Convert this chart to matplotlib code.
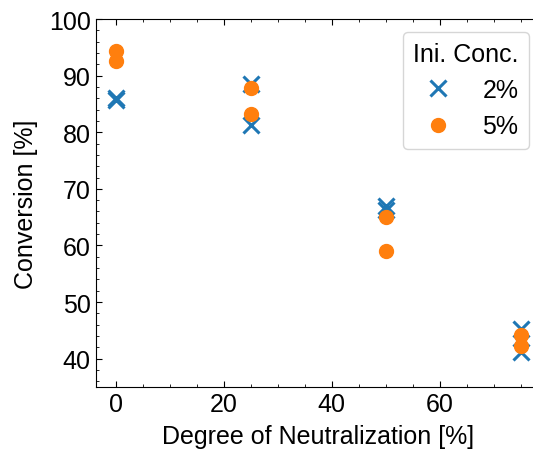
import matplotlib
matplotlib.use("Agg")
import matplotlib.pyplot as plt
from matplotlib.ticker import MultipleLocator

# degree of neutralization [%] and conversion [%] for each initial concentration
dn_2 = [0, 0, 25, 25, 50, 50, 75, 75]
conv_2 = [86.0, 85.7, 88.6, 81.3, 67.0, 66.3, 45.3, 41.1]
dn_5 = [0, 0, 25, 25, 50, 50, 75, 75]
conv_5 = [94.3, 92.6, 87.9, 83.2, 65.1, 59.0, 44.1, 42.2]

plt.rcParams['font.family'] = ['Liberation Sans', 'DejaVu Sans']
plt.rcParams['font.size'] = 18
plt.rcParams['xtick.direction'] = 'in'
plt.rcParams['ytick.direction'] = 'in'
plt.rcParams['xtick.top'] = True
plt.rcParams['ytick.right'] = True
plt.rcParams['xtick.minor.visible'] = True
plt.rcParams['ytick.minor.visible'] = True
plt.rcParams['xtick.major.size'] = 4
plt.rcParams['ytick.major.size'] = 4
plt.rcParams['xtick.minor.size'] = 2
plt.rcParams['ytick.minor.size'] = 2
plt.rcParams['axes.linewidth'] = 0.8

fig = plt.figure(figsize=(5.33, 4.52), dpi=100)
ax = fig.add_axes([95.5 / 533, 64 / 452, 445.5 / 533, 368 / 452])

ax.plot(dn_2, conv_2, 'x', color='#1f77b4', markersize=11, markeredgewidth=2.2, label='2%')
ax.plot(dn_5, conv_5, 'o', color='#ff7f0e', markersize=10, label='5%')

ax.set_xlim(-3.75, 78.75)
ax.set_ylim(35, 100)
ax.xaxis.set_major_locator(MultipleLocator(20))
ax.xaxis.set_minor_locator(MultipleLocator(5))
ax.yaxis.set_major_locator(MultipleLocator(10))
ax.yaxis.set_minor_locator(MultipleLocator(2))
ax.set_xlabel("Degree of Neutralization [%]", labelpad=6)
ax.set_ylabel("Conversion [%]", labelpad=8)
ax.legend(title="Ini. Conc.", loc='upper right', alignment='right',
          title_fontsize=18, fontsize=18)

fig.savefig("out.png", dpi=100)
